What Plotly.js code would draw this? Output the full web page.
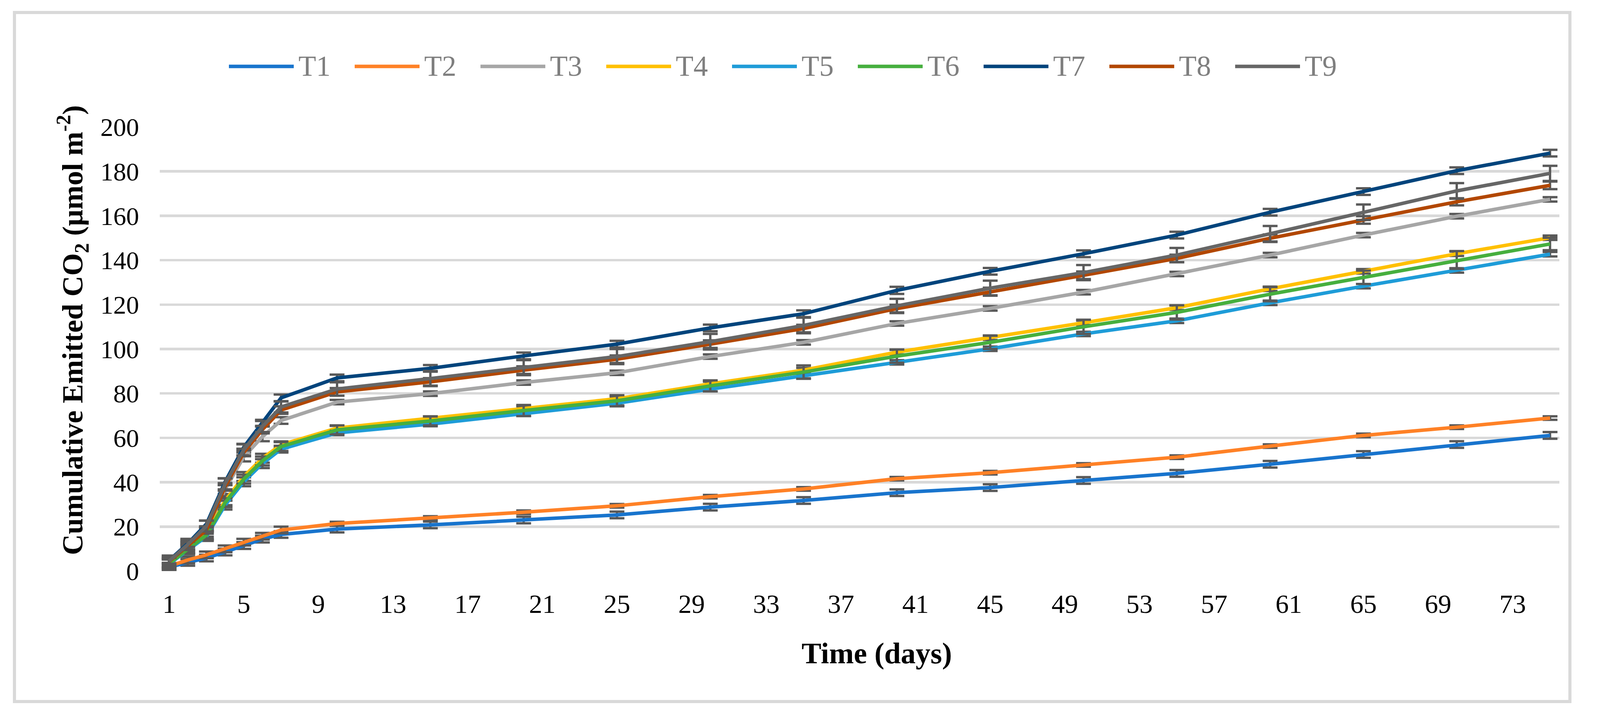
<!DOCTYPE html>
<html>
<head>
<meta charset="utf-8">
<script src="https://cdn.plot.ly/plotly-3.0.1.min.js"></script>
<style>html,body{margin:0;padding:0;background:#fff;}#chart{width:4117px;height:1833px;}</style>
</head>
<body>
<div id="chart"></div>
<script>
// ---- data ----
const days = [1,2,3,4,5,6,7,10,15,20,25,30,35,40,45,50,55,60,65,70,75];
const seriesNames = ['T1','T2','T3','T4','T5','T6','T7','T8','T9'];
const T1 = [1.8,3.9,5.9,8.6,11.5,14.4,16.5,18.9,20.8,23.0,25.3,28.8,31.8,35.3,37.6,40.8,44.0,48.1,52.5,57.0,61.1];
const T2 = [2.2,5.0,7.3,10.0,13.0,15.7,18.5,21.4,23.9,26.5,29.4,33.5,37.0,41.6,44.3,47.8,51.3,56.3,61.1,64.8,68.9];
const T3 = [4.0,11.0,17.5,36.7,51.4,60.5,67.8,76.1,79.9,84.9,89.3,96.6,103.0,111.5,118.3,125.6,133.8,142.3,151.3,159.8,167.4];
const T4 = [3.5,10.2,16.5,31.7,42.6,50.8,56.9,64.4,68.7,73.2,77.6,84.3,90.5,98.6,105.1,111.8,118.6,127.1,135.0,142.9,150.1];
const T5 = [3.2,9.6,15.6,29.7,40.2,48.4,54.9,62.2,66.2,70.9,75.6,81.9,87.8,94.0,100.1,106.8,112.7,120.8,128.3,135.4,142.7];
const T6 = [3.4,10.0,16.2,30.8,41.4,49.6,56.1,63.6,67.6,72.3,76.7,83.4,89.6,96.8,103.0,110.0,116.5,124.7,132.3,140.1,147.3];
const T7 = [4.8,12.4,21.2,40.2,55.8,66.6,78.0,87.0,91.3,96.9,102.2,109.5,115.9,126.4,135.0,142.9,151.3,161.6,170.9,180.3,188.2];
const T8 = [4.3,11.5,18.5,37.9,53.4,63.7,72.5,80.7,85.2,90.5,95.4,102.2,109.2,118.2,125.9,133.2,140.8,149.9,158.1,166.3,173.7];
const T9 = [4.5,12.0,20.3,39.3,54.6,65.1,73.9,82.0,86.7,91.6,96.6,103.3,110.6,119.4,127.4,134.4,142.3,151.9,161.6,171.2,179.1];
// standard deviations (error bars)
const E1 = [1.5,1.5,1.5,1.5,1.5,1.5,1.5,1.5,1.5,1.5,1.5,1.5,1.5,1.5,1.5,1.5,1.5,1.5,1.5,1.5,1.5];
const E2 = [1.5,1.5,1.5,1.5,1.5,1.5,1.5,0.8,0.8,0.8,0.8,0.8,0.8,0.8,0.8,0.8,0.8,0.8,0.8,0.8,0.8];
const E3 = [2.0,2.0,2.0,2.0,2.0,2.0,1.5,1.0,1.0,1.0,1.0,1.0,1.0,1.0,1.0,1.0,1.0,1.0,1.0,1.0,1.0];
const E4 = [2.0,2.0,2.0,2.0,2.0,2.0,1.5,1.0,1.0,1.0,1.0,1.0,1.0,1.0,1.0,1.0,1.0,1.0,1.0,1.0,1.0];
const E5 = [2.0,2.0,2.0,2.0,2.0,2.0,1.5,1.0,1.0,1.0,1.0,1.0,1.0,1.0,1.0,1.0,1.0,1.0,1.0,1.0,1.0];
const E6 = [2.0,2.0,2.0,2.0,2.0,2.0,2.0,2.0,2.0,2.5,2.5,2.5,3.0,3.0,3.0,3.2,3.2,3.2,3.0,4.0,2.8];
const E7 = [1.5,1.5,1.5,1.5,1.5,1.5,1.5,1.5,1.5,1.5,1.5,1.5,1.5,1.6,1.5,1.5,1.5,1.5,1.5,1.5,1.5];
const E8 = [1.7,1.7,1.7,1.7,1.7,1.7,1.7,1.7,1.7,1.7,1.7,1.7,1.7,1.7,1.7,1.7,1.7,1.7,1.7,1.6,1.7];
const E9 = [2.5,2.5,2.5,2.5,2.5,2.5,2.5,3.0,3.4,3.4,3.4,3.5,3.5,3.2,3.4,3.4,3.2,3.5,3.5,3.5,3.4];
const colors = ['#1874CD','#FF8126','#A6A6A6','#FFC000','#1E9CD8','#46AF3E','#00447C','#B24700','#666666'];
const xTicks = [1,5,9,13,17,21,25,29,33,37,41,45,49,53,57,61,65,69,73];
const yTicks = [0,20,40,60,80,100,120,140,160,180,200];

const values = [T1,T2,T3,T4,T5,T6,T7,T8,T9];
const errors = [E1,E2,E3,E4,E5,E6,E7,E8,E9];

const FONT = '"Liberation Serif", "Times New Roman", serif';

// plot area geometry (px)
const W = 4117, H = 1833;
const plotL = 409, plotR = 3992, plotT = 325, plotB = 1462;
const pw = plotR - plotL, ph = plotB - plotT;
const px2x = p => (p - plotL) / pw;
const py2y = p => (plotB - p) / ph;

const traces = seriesNames.map((n, i) => ({
  type: 'scatter', mode: 'lines', name: n,
  x: days, y: values[i],
  line: {color: colors[i], width: 9},
  error_y: {type: 'data', array: errors[i], visible: true, color: '#595959', thickness: 6, width: 19},
  showlegend: false, hoverinfo: 'skip'
}));

const shapes = [{
  type: 'rect', xref: 'paper', yref: 'paper',
  x0: px2x(37), x1: px2x(4019), y0: py2y(1796), y1: py2y(32),
  line: {color: '#D9D9D9', width: 8}, fillcolor: 'rgba(0,0,0,0)', layer: 'below'
}];
const annotations = [];
// legend (manual, to mimic long line keys)
seriesNames.forEach((n, i) => {
  const lx0 = 586 + 322 * i, lx1 = lx0 + 166, ly = 170;
  shapes.push({type: 'line', xref: 'paper', yref: 'paper',
    x0: px2x(lx0), x1: px2x(lx1), y0: py2y(ly), y1: py2y(ly),
    line: {color: colors[i], width: 9}});
  annotations.push({xref: 'paper', yref: 'paper', x: px2x(lx1 + 10), y: py2y(169),
    xanchor: 'left', yanchor: 'middle', showarrow: false, text: n,
    font: {family: FONT, size: 74, color: '#7F7F7F'}});
});
// axis titles
annotations.push({xref: 'paper', yref: 'paper', x: px2x(186), y: py2y(845),
  xanchor: 'center', yanchor: 'middle', showarrow: false, textangle: -90,
  text: '<b>Cumulative Emitted CO<sub>2</sub> (µmol m<sup>-2</sup>)</b>',
  font: {family: FONT, size: 74, color: '#000000'}});
annotations.push({xref: 'paper', yref: 'paper', x: px2x(2244), y: py2y(1672),
  xanchor: 'center', yanchor: 'middle', showarrow: false,
  text: '<b>Time (days)</b>',
  font: {family: FONT, size: 76, color: '#000000'}});

const layout = {
  width: W, height: H,
  margin: {l: plotL, r: W - plotR, t: plotT, b: H - plotB, pad: 0},
  paper_bgcolor: '#FFFFFF', plot_bgcolor: '#FFFFFF',
  font: {family: FONT, color: '#000000'},
  showlegend: false,
  xaxis: {
    range: [0.5, 75.5], tickmode: 'array', tickvals: xTicks, ticktext: xTicks.map(String),
    showgrid: false, zeroline: false, showline: false, ticks: '',
    tickfont: {family: FONT, size: 68, color: '#000000'}, ticklabelstandoff: 38
  },
  yaxis: {
    range: [0, 200], tickmode: 'array', tickvals: yTicks, ticktext: yTicks.map(String),
    showgrid: true, gridcolor: '#D9D9D9', gridwidth: 6.5, zeroline: false, showline: false, ticks: '',
    tickfont: {family: FONT, size: 66, color: '#000000'}, ticklabelstandoff: 52
  },
  shapes: shapes,
  annotations: annotations
};

Plotly.newPlot('chart', traces, layout, {staticPlot: true, displayModeBar: false});
</script>
</body>
</html>
